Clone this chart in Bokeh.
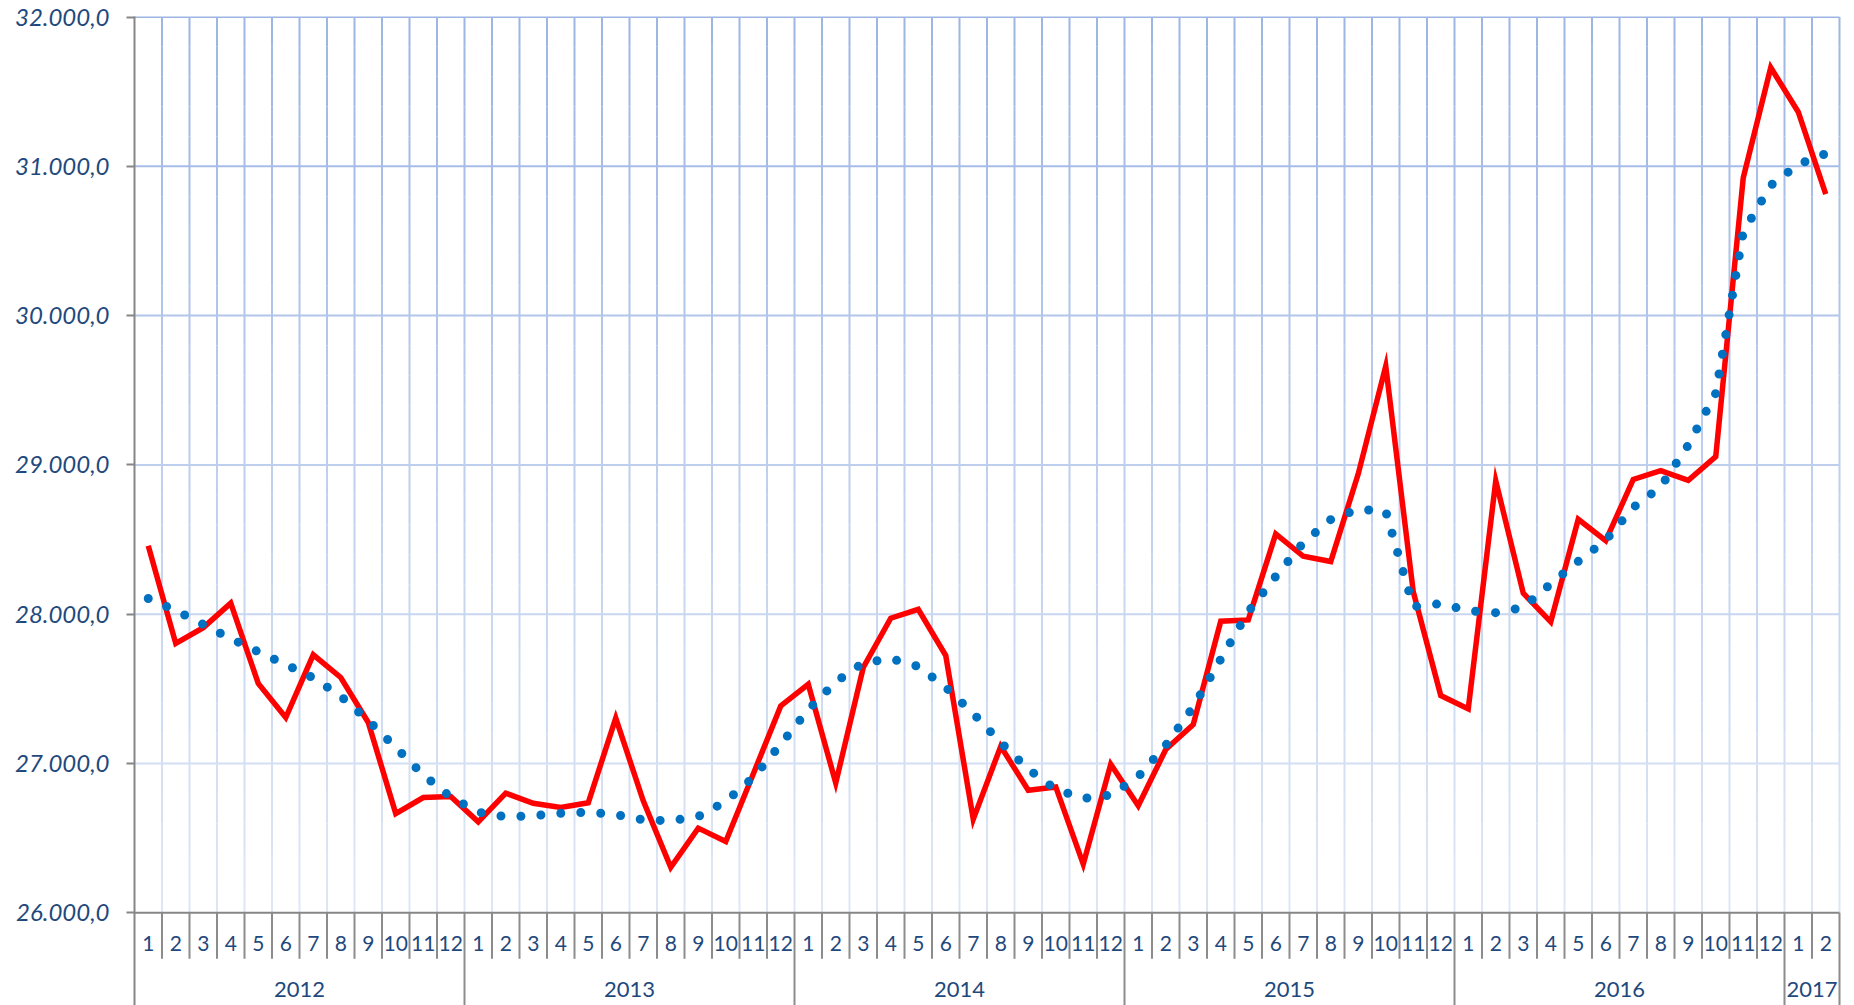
from bokeh.plotting import figure
from bokeh.models import Range1d, FixedTicker, ColumnDataSource
from bokeh.core.properties import value
from bokeh.embed import file_html
from bokeh.resources import INLINE

# ---------------- data ----------------
years = ["2012", "2013", "2014", "2015", "2016", "2017"]
months_per_year = [12, 12, 12, 12, 12, 2]
month_labels = [str(m) for n in months_per_year for m in range(1, n + 1)]

actual = [
    28458, 27804, 27910, 28074, 27536, 27308, 27728, 27576, 27275, 26665, 26772, 26779,
    26609, 26801, 26734, 26705, 26737, 27304, 26750, 26304, 26567, 26478, 26930, 27386,
    27531, 26870, 27643, 27973, 28033, 27723, 26627, 27115, 26821, 26843, 26326, 26995,
    26717, 27094, 27261, 27953, 27962, 28538, 28388, 28353, 28940, 29661, 28150, 27455,
    27366, 28893, 28141, 27949, 28636, 28492, 28903, 28962, 28897, 29056, 30923, 31662,
    31364, 30813,
]
trend = [
    28105, 28025, 27931, 27837, 27748, 27663, 27574, 27451, 27288, 27107, 26924, 26775,
    26674, 26643, 26650, 26667, 26674, 26658, 26623, 26616, 26645, 26746, 26906, 27129,
    27360, 27547, 27674, 27702, 27650, 27510, 27335, 27140, 26962, 26828, 26766, 26788,
    26912, 27122, 27379, 27699, 28016, 28254, 28478, 28634, 28703, 28690, 28050, 28071,
    28023, 28010, 28045, 28203, 28354, 28495, 28715, 28854, 29133, 29480, 30560, 30872,
    31013, 31085,
]
y_ticks = [26000, 27000, 28000, 29000, 30000, 31000, 32000]

# ---------------- layout ----------------
W, H = 1854, 1005
ML, MR, MT, MB = 134, 13, 16, 0
frame_w = W - ML - MR
frame_h = H - MT - MB
PX_PER_MONTH = 27.5
PX_PER_UNIT = 149.3 / 1000.0
AXIS_PX = 912.3 - MT  # frame-relative pixel of y = 26000

y_base = y_ticks[0]
y_top = y_base + AXIS_PX / PX_PER_UNIT
y_bottom = y_base - (frame_h - AXIS_PX) / PX_PER_UNIT
n = len(month_labels)
x_end = frame_w / PX_PER_MONTH


def y_below(px):
    return y_base - px / PX_PER_UNIT


def fmt(v):
    s = f"{v:,.1f}"
    return s.replace(",", "X").replace(".", ",").replace("X", ".")


p = figure(width=W, height=H, output_backend="svg", toolbar_location=None,
           x_range=Range1d(0, x_end), y_range=Range1d(y_bottom, y_top),
           min_border_left=ML, min_border_right=MR, min_border_top=MT,
           min_border_bottom=MB, x_axis_type=None)
p.outline_line_color = None
p.background_fill_color = "white"
p.border_fill_color = "white"
p.xgrid.visible = False
p.ygrid.visible = False

# y axis
p.yaxis.ticker = FixedTicker(ticks=y_ticks)
p.yaxis.major_label_overrides = {v: fmt(v) for v in y_ticks}
p.yaxis.major_label_text_font = "Lato"
p.yaxis.major_label_text_font_style = "italic"
p.yaxis.major_label_text_font_size = "24px"
p.yaxis.major_label_text_color = "#1f497d"
p.yaxis.axis_line_color = "#868686"
p.yaxis.axis_line_width = 2
p.yaxis.major_tick_line_color = "#868686"
p.yaxis.major_tick_line_width = 2
p.yaxis.major_tick_out = 8
p.yaxis.major_tick_in = 0
p.yaxis.minor_tick_line_color = None
p.yaxis.major_label_standoff = 17

# gradient gridline colours
top_c = (156, 181, 228)
bot_c = (223, 231, 246)


def grid_col(t):
    r = [round(bot_c[i] + (top_c[i] - bot_c[i]) * t) for i in range(3)]
    return "#%02x%02x%02x" % tuple(r)


span = y_ticks[-1] - y_ticks[0]
pieces = 30
gx0, gy0, gx1, gy1, gc = [], [], [], [], []
for k in range(1, n + 1):
    for j in range(pieces):
        a = y_base + span * j / pieces
        b = y_base + span * (j + 1) / pieces
        gx0.append(k); gx1.append(k); gy0.append(a); gy1.append(b)
        gc.append(grid_col((j + 0.5) / pieces))
for v in y_ticks[1:]:
    gx0.append(0); gx1.append(n); gy0.append(v); gy1.append(v)
    gc.append(grid_col((v - y_base) / span))
p.segment(x0="x0", y0="y0", x1="x1", y1="y1", line_color="c", line_width=2,
          source=ColumnDataSource(dict(x0=gx0, y0=gy0, x1=gx1, y1=gy1, c=gc)))

# category axis line and separators
p.segment(x0=[0], y0=[y_base], x1=[n], y1=[y_base], line_color="#868686", line_width=2)
year_bounds = [0]
for c in months_per_year:
    year_bounds.append(year_bounds[-1] + c)
sx0, sy0, sy1 = [], [], []
for k in range(1, n + 1):
    sx0.append(k)
    sy0.append(y_base)
    sy1.append(y_bottom if k in year_bounds else y_below(46))
p.segment(x0=sx0, y0=sy0, x1=sx0, y1=sy1, line_color="#8c8c8c", line_width=2)

# data
xs = [i + 0.5 for i in range(n)]
p.line(xs, actual, line_color="#ff0000", line_width=5.5, line_join="miter")
p.line(xs, trend, line_color="#0070c0", line_width=9, line_dash="0 20",
       line_cap="round")

# category labels
p.text(x=xs, y=[y_below(31)] * n, text=month_labels, text_font=value("Lato"),
       text_font_size="21px", text_color="#1f497d", text_align="center",
       text_baseline="middle")
yx = [(year_bounds[i] + year_bounds[i + 1]) / 2 for i in range(len(years))]
p.text(x=yx, y=[y_below(77)] * len(years), text=years, text_font=value("Lato"),
       text_font_size="22px", text_color="#1f497d", text_align="center",
       text_baseline="middle")

open("out.html", "w").write(file_html(p, INLINE))
